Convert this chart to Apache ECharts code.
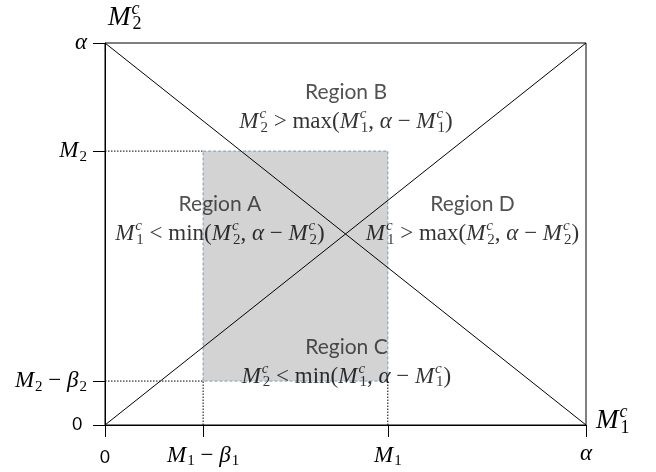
<!DOCTYPE html>
<html><head><meta charset="utf-8">
<script src="https://cdn.jsdelivr.net/npm/echarts@6/dist/echarts.min.js"></script>
<style>html,body{margin:0;padding:0;background:#fff}#c{width:656px;height:472px}</style>
</head><body><div id="c"></div>
<script>
// ---- data (α scaled to 10) ----
const ALPHA = 10;
const M1_MINUS_B1 = 2.04;
const M1 = 5.88;
const M2 = 7.17;
const M2_MINUS_B2 = 1.15;

const xTicks = [0, M1_MINUS_B1, M1, ALPHA];
const xTickLabels = ['#0', 'M_1 − β_1', 'M_1', 'α'];
const yTicks = [0, M2_MINUS_B2, M2, ALPHA];
const yTickLabels = ['%0', 'M_2 − β_2', 'M_2', 'α'];
const xAxisTitle = 'M^c_1';
const yAxisTitle = 'M^c_2';

const diagonalUp = [[0, 0], [ALPHA, ALPHA]];
const diagonalDown = [[0, ALPHA], [ALPHA, 0]];

const regionNames = ['Region A', 'Region B', 'Region C', 'Region D'];
const regionRules = [
  'M^c_1 < \\min(M^c_2, α − M^c_2)',
  'M^c_2 > \\max(M^c_1, α − M^c_1)',
  'M^c_2 < \\min(M^c_1, α − M^c_1)',
  'M^c_1 > \\max(M^c_2, α − M^c_2)'
];
const regionAnchors = [[2.39, 5.39], [5.01, 8.32], [5.02, 1.65], [7.64, 5.39]];

// ---- mini math markup -> echarts rich text ----
function esc(t) { return t.replace(/[{}|]/g, ''); }
function tex(s, big) {
  if (s[0] === '#') return '{z|' + esc(s.slice(1)) + '}';
  if (s[0] === '%') return '{zy|' + esc(s.slice(1)) + '}';
  const P = big ? 'B' : '';
  let out = '', i = 0;
  while (i < s.length) {
    const ch = s[i];
    if (ch === '\\') {
      let j = i + 1; while (j < s.length && /[a-z]/.test(s[j])) j++;
      out += '{n' + P + '|' + s.slice(i + 1, j) + '}'; i = j; continue;
    }
    if (ch === '^') {
      const stacked = s[i + 2] === '_';
      out += '{' + (stacked ? 'p' : 'q') + P + '|' + s[i + 1] + '}'; i += 2; continue;
    }
    if (ch === '_') { out += '{s' + P + '|' + s[i + 1] + '}'; i += 2; continue; }
    if (/[A-Za-zαβ]/.test(ch)) { out += '{i' + P + '|' + ch + '}'; i++; continue; }
    let j = i; while (j < s.length && !/[A-Za-zαβ\\^_]/.test(s[j])) j++;
    out += '{n' + P + '|' + esc(s.slice(i, j)) + '}'; i = j;
  }
  return out;
}
const SERIF = 'Liberation Serif';
const SANS = 'Lato';
const FS = 23, SFS = 15, BFS = 27, BSFS = 18;
function mkRich(lh) {
  const L = 'left';
  return {
    i: { fontFamily: SERIF, fontStyle: 'italic', fontSize: FS, color: '#000', lineHeight: lh, align: L },
    n: { fontFamily: SERIF, fontSize: FS, color: '#000', lineHeight: lh, align: L },
    s: { fontFamily: SERIF, fontSize: SFS, color: '#000', padding: [12, 0, 0, 1], align: L },
    p: { fontFamily: SERIF, fontStyle: 'italic', fontSize: SFS, color: '#000', padding: [0, 0, 15, 1], width: 0, align: L },
    q: { fontFamily: SERIF, fontStyle: 'italic', fontSize: SFS, color: '#000', padding: [0, 0, 15, 1], align: L },
    z: { fontFamily: SANS, fontSize: 17, color: '#000', padding: [7, 0, 0, 0] },
    zy: { fontFamily: SANS, fontSize: 17, color: '#000', padding: [0, 5, 0, 0] },
    r: { fontFamily: SANS, fontSize: 21, color: '#262626', lineHeight: lh, align: 'center' },
    iB: { fontFamily: SERIF, fontStyle: 'italic', fontSize: BFS, color: '#000', align: L },
    nB: { fontFamily: SERIF, fontSize: BFS, color: '#000', align: L },
    sB: { fontFamily: SERIF, fontSize: BSFS, color: '#000', padding: [14, 0, 0, 1], align: L },
    pB: { fontFamily: SERIF, fontStyle: 'italic', fontSize: BSFS, color: '#000', padding: [0, 0, 17, 1], width: 0, align: L },
    qB: { fontFamily: SERIF, fontStyle: 'italic', fontSize: BSFS, color: '#000', padding: [0, 0, 17, 1], align: L }
  };
}
const rich = mkRich(undefined);
function lookup(ticks, labels, v) {
  for (let k = 0; k < ticks.length; k++) if (Math.abs(ticks[k] - v) < 1e-9) return tex(labels[k]);
  return '';
}

const chart = echarts.init(document.getElementById('c'), null, { renderer: 'canvas' });
const blackLine = { color: '#000', width: 1 };
const guideStyle = { color: '#000', width: 1, type: [1.5, 1.5] };

chart.setOption({
  animation: false,
  backgroundColor: '#fff',
  grid: { left: 105, right: 70, top: 33, bottom: 47, show: true, borderColor: '#000', borderWidth: 1, backgroundColor: 'transparent' },
  xAxis: {
    type: 'value', min: 0, max: ALPHA,
    splitLine: { show: false },
    axisLine: { show: true, lineStyle: blackLine, onZero: false },
    axisTick: { show: true, customValues: xTicks, length: 12, lineStyle: blackLine },
    axisLabel: { customValues: xTicks, margin: 17, rich: rich, formatter: v => lookup(xTicks, xTickLabels, v) },
    name: tex(xAxisTitle, true), nameLocation: 'end', nameGap: 10,
    nameTextStyle: { rich: rich, padding: [0, 0, 8, 0] }
  },
  yAxis: {
    type: 'value', min: 0, max: ALPHA,
    splitLine: { show: false },
    axisLine: { show: true, lineStyle: blackLine, onZero: false },
    axisTick: { show: true, customValues: yTicks, length: 12, lineStyle: blackLine },
    axisLabel: { customValues: yTicks, margin: 18, rich: rich, formatter: v => lookup(yTicks, yTickLabels, v) },
    name: tex(yAxisTitle, true), nameLocation: 'end', nameGap: 8,
    nameTextStyle: { rich: rich, align: 'left', padding: [0, 0, 0, 3] }
  },
  series: [
    {
      type: 'line', data: [], z: 1,
      markArea: {
        silent: true,
        itemStyle: { color: '#d3d3d3', borderColor: '#7d98b5', borderWidth: 1, borderType: [3, 2] },
        data: [[{ coord: [M1_MINUS_B1, M2] }, { coord: [M1, M2_MINUS_B2] }]]
      }
    },
    { type: 'line', data: [[0, M2], [M1_MINUS_B1, M2]], symbol: 'none', lineStyle: guideStyle, z: 2 },
    { type: 'line', data: [[0, M2_MINUS_B2], [M1_MINUS_B1, M2_MINUS_B2]], symbol: 'none', lineStyle: guideStyle, z: 2 },
    { type: 'line', data: [[M1_MINUS_B1, 0], [M1_MINUS_B1, M2_MINUS_B2]], symbol: 'none', lineStyle: guideStyle, z: 2 },
    { type: 'line', data: [[M1, 0], [M1, M2_MINUS_B2]], symbol: 'none', lineStyle: guideStyle, z: 2 },
    { type: 'line', data: diagonalUp, symbol: 'none', lineStyle: blackLine, z: 3 },
    { type: 'line', data: diagonalDown, symbol: 'none', lineStyle: blackLine, z: 3 },
    {
      type: 'scatter', symbolSize: 0, z: 5,
      data: regionAnchors.map((a, k) => ({ value: a, name: regionNames[k], rule: regionRules[k] })),
      label: {
        show: true, position: 'inside', align: 'center', verticalAlign: 'middle',
        rich: mkRich(29),
        formatter: p => '{r|' + p.data.name + '}\n' + tex(p.data.rule)
      }
    }
  ]
});
</script></body></html>
